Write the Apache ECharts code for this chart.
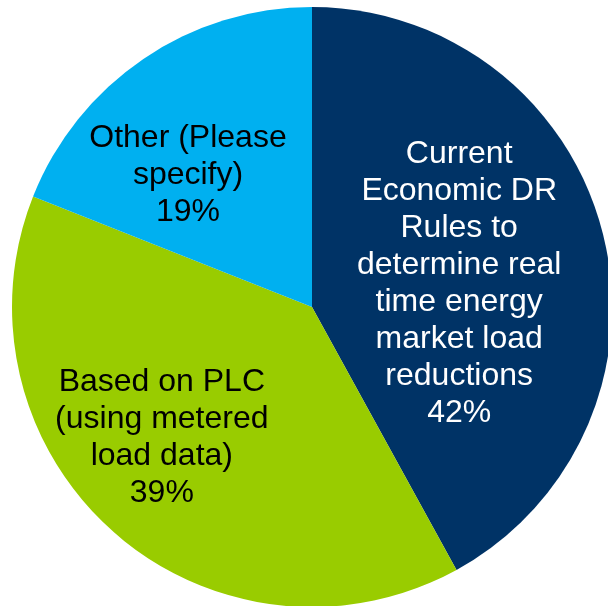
<!DOCTYPE html>
<html>
<head>
<meta charset="utf-8">
<style>
html,body{margin:0;padding:0;background:#fff;}
#chart{width:608px;height:606px;}
</style>
<script src="https://cdn.jsdelivr.net/npm/echarts@6/dist/echarts.min.js"></script>
</head>
<body>
<div id="chart"></div>
<script>
var categories = [
  'Current\nEconomic DR\nRules to\ndetermine real\ntime energy\nmarket load\nreductions',
  'Based on PLC\n(using metered\nload data)',
  'Other (Please\nspecify)'
];
var values = [42, 39, 19];
var colors = ['#003366', '#99cc00', '#00b0f0'];
var labelColors = ['#ffffff', '#000000', '#000000'];
var labelOffsets = [[-1, 15], [-49, 16], [-38, -5]];

var chart = echarts.init(document.getElementById('chart'), null, {renderer: 'canvas'});
var data = categories.map(function (c, i) {
  return {
    name: c,
    value: values[i],
    itemStyle: {color: colors[i]},
    label: {color: labelColors[i], offset: labelOffsets[i]}
  };
});
chart.setOption({
  animation: false,
  series: [{
    type: 'pie',
    center: [312, 307],
    radius: [0, 300],
    startAngle: 90,
    clockwise: true,
    avoidLabelOverlap: false,
    itemStyle: {borderWidth: 0},
    emphasis: {disabled: true},
    label: {
      show: true,
      position: 'inside',
      formatter: '{b}\n{c}%',
      fontFamily: 'Liberation Sans, Arial, sans-serif',
      fontSize: 32,
      lineHeight: 37,
      align: 'center'
    },
    labelLine: {show: false},
    data: data
  }]
});
</script>
</body>
</html>
